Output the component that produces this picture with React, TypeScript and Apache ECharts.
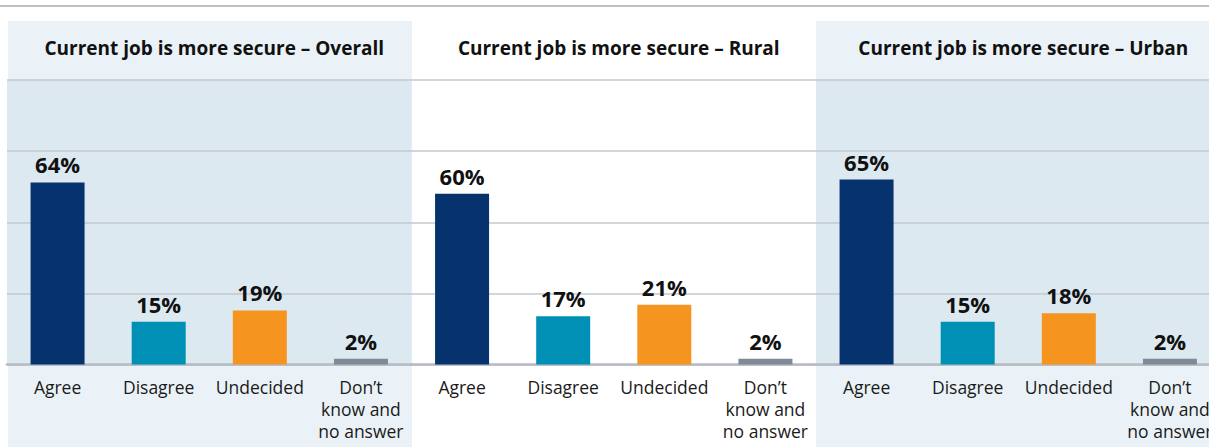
import React, { useEffect, useRef } from "react";
import * as echarts from "echarts";

const categories = ["Agree", "Disagree", "Undecided", "Don’t\nknow and\nno answer"];
const panelTitles = [
  "Current job is more secure – Overall",
  "Current job is more secure – Rural",
  "Current job is more secure – Urban",
];
const overallValues = [64, 15, 19, 2];
const ruralValues = [60, 17, 21, 2];
const urbanValues = [65, 15, 18, 2];
const barColors = ["#06336e", "#0090b5", "#f5951f", "#808a96"];
const axisMax = 100;
const axisStep = 25;

const panelValues = [overallValues, ruralValues, urbanValues];
const panelLefts = [7, 411.5, 816];
const panelWidth = 404.5;
const shaded = [true, false, true];
const FONT = "'Open Sans', 'Noto Sans', sans-serif";

export default function App() {
  const ref = useRef<HTMLDivElement>(null);
  useEffect(() => {
    if (!ref.current) return;
    const chart = echarts.init(ref.current, undefined, { renderer: "svg" });
    const gridTop = 80;
    const gridHeight = 284.5;
    const option: any = {
      animation: false,
      backgroundColor: "#ffffff",
      textStyle: { fontFamily: FONT },
      title: panelTitles.map((t, i) => ({
        text: t,
        left: panelLefts[i] + panelWidth / 2,
        top: 30,
        textAlign: "center",
        textStyle: {
          fontFamily: FONT,
          fontSize: 19,
          fontWeight: "bold",
          color: "#111111",
          lineHeight: 26,
        },
      })),
      graphic: {
        elements: [
          {
            type: "line",
            z: -10,
            shape: { x1: 0, y1: 6, x2: 1240, y2: 6 },
            style: { stroke: "#a7abb2", lineWidth: 1.5 },
          },
          {
            type: "rect",
            z: -10,
            shape: { x: 8, y: 21, width: 404, height: 426 },
            style: { fill: "#eaf2f7" },
          },
          {
            type: "rect",
            z: -10,
            shape: { x: 816, y: 21, width: 420, height: 426 },
            style: { fill: "#eaf2f7" },
          },
        ],
      },
      grid: panelLefts.map((l, i) => ({
        left: l,
        width: panelWidth,
        top: gridTop,
        height: gridHeight,
        show: shaded[i],
        backgroundColor: shaded[i] ? "#dde9f1" : "transparent",
        borderWidth: 0,
      })),
      xAxis: panelLefts.map((_, i) => ({
        type: "category",
        gridIndex: i,
        data: categories,
        axisTick: { show: false },
        axisLine: { lineStyle: { color: "#b7bbc2", width: 2.5 } },
        axisLabel: {
          interval: 0,
          margin: 11,
          fontFamily: FONT,
          fontSize: 17.5,
          lineHeight: 22,
          color: "#1a1a1a",
        },
      })),
      yAxis: panelLefts.map((_, i) => ({
        type: "value",
        gridIndex: i,
        min: 0,
        max: axisMax,
        interval: axisStep,
        axisLabel: { show: false },
        axisLine: { show: false },
        axisTick: { show: false },
        splitLine: { lineStyle: { color: "#c3c7ce", width: 1.5 } },
      })),
      series: panelValues.map((vals, i) => ({
        type: "bar",
        xAxisIndex: i,
        yAxisIndex: i,
        barWidth: 54,
        data: vals.map((v, j) => ({ value: v, itemStyle: { color: barColors[j] } })),
        label: {
          show: true,
          position: "top",
          distance: 7,
          formatter: "{c}%",
          fontFamily: FONT,
          fontWeight: "bold",
          fontSize: 22,
          color: "#111111",
        },
      })),
    };
    chart.setOption(option);
    return () => chart.dispose();
  }, []);
  return (
    <div
      style={{
        position: "absolute",
        left: 0,
        top: 0,
        width: 1209,
        height: 447,
        overflow: "hidden",
      }}
    >
      <div ref={ref} style={{ width: 1236, height: 447 }} />
    </div>
  );
}
